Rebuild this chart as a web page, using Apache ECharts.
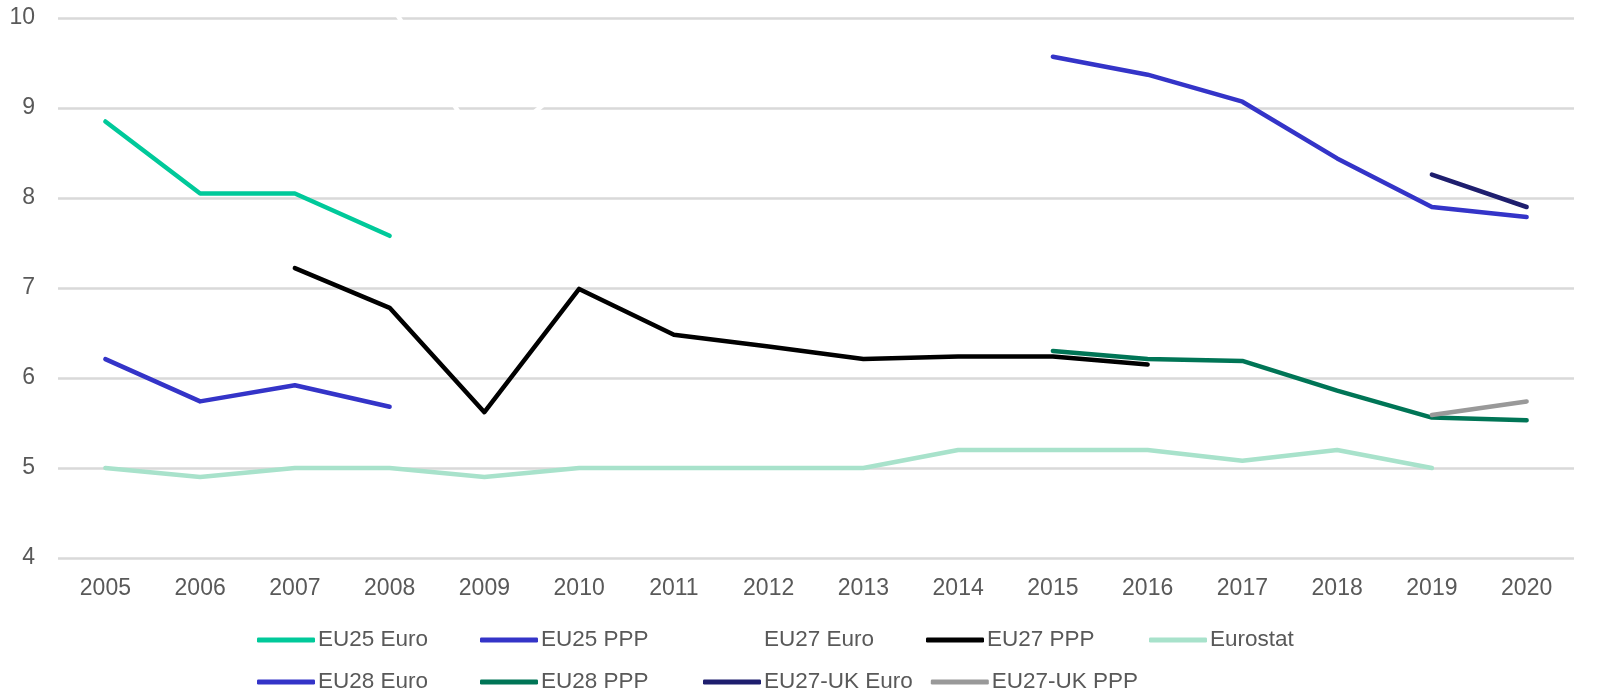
<!DOCTYPE html>
<html>
<head>
<meta charset="utf-8">
<script src="https://cdn.jsdelivr.net/npm/echarts@6/dist/echarts.min.js"></script>
<style>
  html, body { margin: 0; padding: 0; background: #fff; }
  #chart_main { width: 1597px; height: 694px; }
</style>
</head>
<body>
<div id="chart_main"></div>
<script>
// data
const years = ['2005', '2006', '2007', '2008', '2009', '2010', '2011', '2012',
  '2013', '2014', '2015', '2016', '2017', '2018', '2019', '2020'];
const yTicks = { min: 4, max: 10, interval: 1 };

const eu25Euro   = [8.85, 8.05, 8.05, 7.58, null, null, null, null, null, null, null, null, null, null, null, null];
const eu25Ppp    = [6.21, 5.74, 5.92, 5.68, null, null, null, null, null, null, null, null, null, null, null, null];
const eu27Euro   = [null, null, null, 10.17, 8.5, 9.36, null, null, null, null, null, null, null, null, null, null];
const eu27Ppp    = [null, null, 7.22, 6.78, 5.62, 6.99, 6.48, 6.35, 6.21, 6.24, 6.24, 6.15, null, null, null, null];
const eurostat   = [5.0, 4.9, 5.0, 5.0, 4.9, 5.0, 5.0, 5.0, 5.0, 5.2, 5.2, 5.2, 5.08, 5.2, 5.0, null];
const eu28Euro   = [null, null, null, null, null, null, null, null, null, null, 9.57, 9.37, 9.07, 8.44, 7.9, 7.79];
const eu28Ppp    = [null, null, null, null, null, null, null, null, null, null, 6.3, 6.21, 6.19, 5.86, 5.56, 5.53];
const eu27UkEuro = [null, null, null, null, null, null, null, null, null, null, null, null, null, null, 8.26, 7.9];
const eu27UkPpp  = [null, null, null, null, null, null, null, null, null, null, null, null, null, null, 5.59, 5.74];

const seriesList = [
  { name: 'EU25 Euro', data: eu25Euro, color: '#00c99a' },
  { name: 'EU25 PPP', data: eu25Ppp, color: '#3434c8' },
  { name: 'EU27 Euro', data: eu27Euro, color: '#ffffff' },
  { name: 'EU27 PPP', data: eu27Ppp, color: '#000000' },
  { name: 'Eurostat', data: eurostat, color: '#a8e2cb' },
  { name: 'EU28 Euro', data: eu28Euro, color: '#3434c8' },
  { name: 'EU28 PPP', data: eu28Ppp, color: '#007556' },
  { name: 'EU27-UK Euro', data: eu27UkEuro, color: '#1e1e6e' },
  { name: 'EU27-UK PPP', data: eu27UkPpp, color: '#999999' }
];

const font = '"Liberation Sans", Arial, sans-serif';

let myChart = echarts.init(document.getElementById('chart_main'));
myChart.setOption({
  animation: false,
  textStyle: { fontFamily: font },
  grid: { left: 58, right: 23, top: 18, bottom: 136 },
  legend: {
    left: 257,
    top: 628,
    padding: 0,
    width: 1160,
    itemGap: 18,
    itemWidth: 58,
    itemHeight: 5,
    icon: 'roundRect',
    textStyle: {
      color: '#595959',
      fontSize: 22.5,
      fontFamily: font,
      width: 144,
      lineHeight: 24,
      padding: [0, 0, 0, -2]
    },
    data: seriesList.map(s => s.name)
  },
  xAxis: {
    type: 'category',
    data: years,
    boundaryGap: true,
    axisLine: { show: false },
    axisTick: { show: false },
    axisLabel: { color: '#595959', fontSize: 23, margin: 19, fontFamily: font }
  },
  yAxis: {
    type: 'value',
    min: yTicks.min,
    max: yTicks.max,
    interval: yTicks.interval,
    axisLine: { show: false },
    axisTick: { show: false },
    axisLabel: { color: '#595959', fontSize: 23, margin: 23, fontFamily: font },
    splitLine: { lineStyle: { color: '#d9d9d9', width: 2.5 } }
  },
  series: seriesList.map(s => ({
    name: s.name,
    type: 'line',
    data: s.data,
    symbol: 'none',
    color: s.color,
    lineStyle: { color: s.color, width: 4.5, cap: 'round', join: 'round' }
  }))
});
</script>
</body>
</html>
